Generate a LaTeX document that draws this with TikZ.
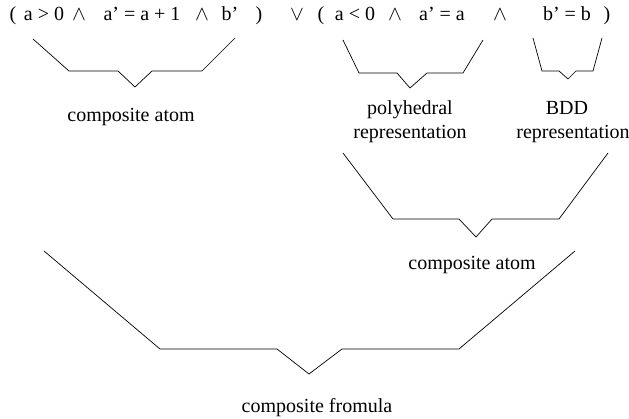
\documentclass[tikz,border=0pt]{standalone}
\usepackage{fontspec}
\setmainfont{Liberation Serif}
\usetikzlibrary{positioning}

\begin{document}
\begin{tikzpicture}[x=1pt, y=-1pt, line width=0.7pt,
  font=\fontsize{20}{24}\selectfont,
  tok/.style={anchor=base, inner sep=0pt},
  op/.style={tok, font=\fontsize{22}{24}\selectfont},
  lbl/.style={anchor=base, inner sep=0pt}]
  \useasboundingbox (0,0) rectangle (629,419);

  % Formel oben
  \node[tok] (lpa) at (13,21) {(};
  \node[tok] (agt) at (44,21) {a > 0};
  \node[op] (w1) at (79,21) {$\wedge$};
  \node[tok] (aupd) at (142,21) {a' = a + 1};
  \node[op] (w2) at (202,21) {$\wedge$};
  \node[tok] (bp) at (230,21) {b'};
  \node[tok] (rpa) at (259,21) {)};
  \node[op] (vee) at (297,21) {$\vee$};
  \node[tok] (lpb) at (321,21) {(};
  \node[tok] (alt) at (355,21) {a < 0};
  \node[op] (w3) at (395,21) {$\wedge$};
  \node[tok] (aeq) at (442,21) {a' = a};
  \node[op] (w4) at (500,21) {$\wedge$};
  \node[tok] (beq) at (567,21) {b' = b};
  \node[tok] (rpb) at (607,21) {)};

  % linke Klammer
  \draw (33,39) -- (69,71) -- (118,71) -- (135,87) -- (152,71) -- (202,71) -- (235,38);
  \node[lbl] (catl) at (131,122) {composite atom};

  % polyedrische Klammer
  \draw (343,40) -- (359,73) -- (397,73) -- (410,88) -- (427,73) -- (463,73) -- (483,40);
  \node[lbl] (poly) at (410,115) {polyhedral};
  \node[lbl] (polyrep) at (410,139) {representation};

  % BDD-Klammer
  \draw (533,38) -- (542,71) -- (559,71) -- (568,79) -- (576,71) -- (593,71) -- (602,38);
  \node[lbl] (bdd) at (567,115) {BDD};
  \node[lbl] (bddrep) at (573,139) {representation};

  % mittlere Klammer
  \draw (343,153) -- (393,219) -- (459,219) -- (476,237) -- (492,219) -- (559,219) -- (608,153);
  \node[lbl] (catr) at (472,270) {composite atom};

  % grosse Klammer
  \draw (44,251) -- (160,349) -- (277,349) -- (309,374) -- (342,349) -- (459,349) -- (575,251);
  \node[lbl] (cform) at (317,412) {composite fromula};
\end{tikzpicture}
\end{document}
